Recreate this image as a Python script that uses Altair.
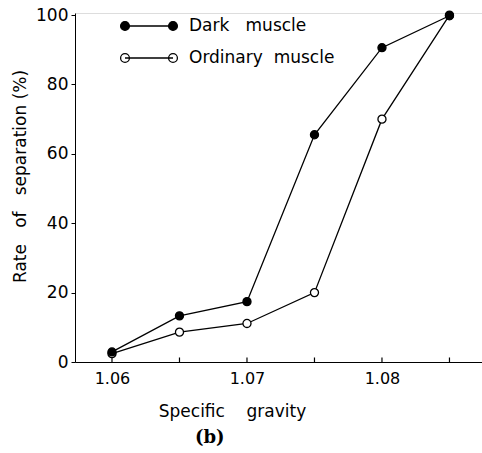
import altair as alt
import pandas as pd

NB = "\u00a0"
gravity = [1.060, 1.065, 1.070, 1.075, 1.080, 1.085]
dark = [2.9, 13.3, 17.4, 65.5, 90.6, 99.8]
ordinary = [2.4, 8.6, 11.1, 20.0, 70.0, 100.0]
series_names = ["Dark" + NB * 3 + "muscle", "Ordinary" + NB * 2 + "muscle"]
tick_vals = [1.060, 1.065, 1.070, 1.075, 1.080, 1.085]
label_vals = [1.06, 1.07, 1.08]
y_ticks = [0, 20, 40, 60, 80, 100]

df = pd.DataFrame({
    "g": gravity * 2,
    "rate": dark + ordinary,
    "series": [series_names[0]] * len(dark) + [series_names[1]] * len(ordinary),
    "order": [2] * len(dark) + [1] * len(ordinary),
})
ticks_df = pd.DataFrame({"g": tick_vals, "y0": [0] * len(tick_vals), "y1": [1.3] * len(tick_vals)})

FONT = "DejaVu Sans"
xscale = alt.Scale(domain=[1.05726, 1.08741], nice=False, zero=False)
yscale = alt.Scale(domain=[0, 100.6], nice=False)

# legend symbol: a line with a circle at each end
r = 0.55
legend_path = (
    f"M-3,0 L3,0 "
    f"M-3,0 m-{r},0 a{r},{r} 0 1,0 {2*r},0 a{r},{r} 0 1,0 -{2*r},0 "
    f"M3,0 m-{r},0 a{r},{r} 0 1,0 {2*r},0 a{r},{r} 0 1,0 -{2*r},0"
)

xaxis = alt.Axis(values=label_vals, format=".2f", ticks=False, grid=False,
                 labelPadding=8, labelFontSize=16, labelFont=FONT,
                 title="Specific" + NB * 4 + "gravity", titleFontSize=17,
                 titleFont=FONT, titleFontWeight="normal",
                 titleX=157, titleY=49, titleAlign="center", titleBaseline="middle",
                 domainColor="black", labelColor="black", titleColor="black")
yaxis = alt.Axis(values=y_ticks, grid=False, tickSize=4, tickColor="black",
                 labelPadding=3, labelFontSize=17, labelFont=FONT,
                 title="Rate" + NB * 3 + "of" + NB * 3 + "separation" + NB + "(%)",
                 titleFontSize=17, titleFont=FONT, titleFontWeight="normal",
                 titleX=-55, titleY=163, titleAngle=270, titleAlign="center",
                 titleBaseline="middle",
                 domainColor="black", labelColor="black", titleColor="black")

base = alt.Chart(df)

lines = base.mark_line(color="black", strokeWidth=1.3).encode(
    x=alt.X("g:Q", scale=xscale, axis=xaxis),
    y=alt.Y("rate:Q", scale=yscale, axis=yaxis),
    detail="series:N",
    order="g:Q",
)

points = base.mark_point(filled=True, stroke="black", strokeWidth=1.3, size=65, opacity=1).encode(
    x=alt.X("g:Q", scale=xscale),
    y=alt.Y("rate:Q", scale=yscale),
    fill=alt.Fill("series:N",
                  scale=alt.Scale(domain=series_names, range=["black", "white"]),
                  legend=alt.Legend(title=None, orient="none", legendX=65, legendY=4,
                                    symbolType=legend_path, symbolSize=256,
                                    symbolStrokeColor="black", symbolStrokeWidth=1.3,
                                    labelFontSize=17, labelFont=FONT, labelColor="black",
                                    labelOffset=31, rowPadding=15, padding=0)),
    order=alt.Order("order:Q"),
)

xticks = alt.Chart(ticks_df).mark_rule(color="black", strokeWidth=1.2).encode(
    x=alt.X("g:Q", scale=xscale),
    y=alt.Y("y0:Q", scale=yscale),
    y2="y1:Q",
)

chart = alt.layer(xticks, lines, points).properties(
    width=407, height=349,
    autosize="none",
    padding={"left": 75, "top": 13, "right": 0, "bottom": 91},
    title=alt.TitleParams(text="(b)", orient="bottom", anchor="start", dx=184, offset=10,
                          font="DejaVu Serif", fontSize=18, fontWeight="bold", color="black"),
).configure_view(stroke=None).configure(background="white")

chart.save("out.html", embed_options={"renderer": "svg", "actions": False})
